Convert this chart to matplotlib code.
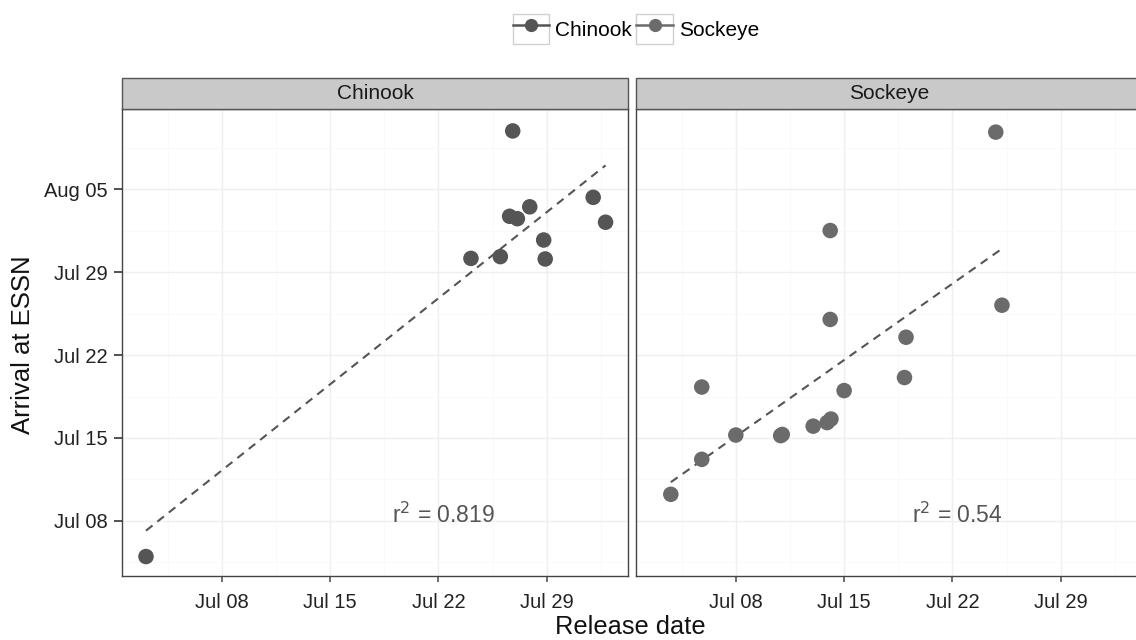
import numpy as np
import matplotlib
matplotlib.use("Agg")
import matplotlib.pyplot as plt
from matplotlib.lines import Line2D
from matplotlib.patches import Rectangle
from matplotlib.legend_handler import HandlerLine2D

plt.rcParams['font.family'] = ['Liberation Sans', 'DejaVu Sans']

# Days counted from June 30 (Jul d -> d, Aug d -> 31 + d)
chinook_release = [3.1, 26.8, 24.1, 26.0, 26.6, 27.1, 27.9, 28.8, 28.9, 32.0, 32.8]
chinook_arrival = [5.0, 40.9, 30.15, 30.3, 33.7, 33.5, 34.5, 31.7, 30.1, 35.3, 33.2]

sockeye_release = [3.8, 5.8, 5.8, 8.0, 10.9, 11.0, 13.0, 13.9, 14.15, 14.1, 15.0, 18.9, 19.0, 25.2, 24.8, 14.1]
sockeye_arrival = [10.25, 13.2, 19.3, 15.25, 15.2, 15.3, 16.0, 16.3, 16.6, 25.0, 19.0, 20.1, 23.5, 26.2, 40.8, 32.5]

species = ["Chinook", "Sockeye"]
r2_labels = ["0.819", "0.54"]
point_colors = ["#555555", "#6b6b6b"]

x_tick_days = [8, 15, 22, 29]
x_tick_labels = ["Jul 08", "Jul 15", "Jul 22", "Jul 29"]
y_tick_days = [8, 15, 22, 29, 36]
y_tick_labels = ["Jul 08", "Jul 15", "Jul 22", "Jul 29", "Aug 05"]

W, H = 1136, 640
fig = plt.figure(figsize=(W / 100, H / 100), dpi=100)

def fx(px):
    return px / W

def fy(py):
    return 1 - py / H

panel_w = 506
panel_top, panel_bot = 109, 576
strip_top = 78
lefts = [122, 636]

xlim = (1.55, 34.25)
ylim = (3.36, 42.75)

data = [(chinook_release, chinook_arrival), (sockeye_release, sockeye_arrival)]

for i, (sp, (xs, ys)) in enumerate(zip(species, data)):
    ax = fig.add_axes([fx(lefts[i]), fy(panel_bot), panel_w / W, (panel_bot - panel_top) / H])
    ax.set_xlim(*xlim)
    ax.set_ylim(*ylim)
    ax.set_facecolor("white")
    # grid
    for d in x_tick_days:
        ax.axvline(d, color="#efefef", lw=1.0, zorder=0)
    for d in [4.5, 11.5, 18.5, 25.5, 32.5]:
        ax.axvline(d, color="#f8f8f8", lw=0.6, zorder=0)
    for d in y_tick_days:
        ax.axhline(d, color="#efefef", lw=1.0, zorder=0)
    for d in [4.5, 11.5, 18.5, 25.5, 32.5, 39.5]:
        ax.axhline(d, color="#f8f8f8", lw=0.6, zorder=0)
    xs_a = np.array(xs)
    ys_a = np.array(ys)
    ax.scatter(xs_a, ys_a, s=125, color=point_colors[i], edgecolors="none", zorder=3)
    b, a = np.polyfit(xs_a, ys_a, 1)
    xx = np.array([xs_a.min(), xs_a.max()])
    ax.plot(xx, a + b * xx, ls=(0, (4, 3)), color="#555555", lw=1.5, zorder=2)
    ax.text(22.3, 8.5, r"r$^2$ = " + r2_labels[i], ha="center", va="center",
            fontsize=16.5, color="#555555")
    for s in ax.spines.values():
        s.set_color("#444444")
        s.set_linewidth(1.0)
    ax.set_xticks(x_tick_days)
    ax.set_xticklabels(x_tick_labels)
    ax.tick_params(axis="x", length=4.5, width=1.2, color="#555555", labelsize=14.5,
                   labelcolor="#222222", pad=7.5)
    ax.set_yticks(y_tick_days)
    if i == 0:
        ax.set_yticklabels(y_tick_labels)
        ax.tick_params(axis="y", length=5.5, width=1.2, color="#333333", labelsize=14.5,
                       labelcolor="#222222", pad=4.5)
    else:
        ax.tick_params(axis="y", length=0, labelleft=False)
    # strip
    fig.patches.append(Rectangle((fx(lefts[i]), fy(panel_top)), panel_w / W,
                                 (panel_top - strip_top) / H, transform=fig.transFigure,
                                 facecolor="#c9c9c9", edgecolor="#555555", lw=1.0))
    fig.text(fx(lefts[i] + panel_w / 2), fy((strip_top + panel_top) / 2), sp,
             ha="center", va="center", fontsize=15, color="#1a1a1a")

fig.text(fx(630), fy(627), "Release date", ha="center", va="center", fontsize=18.3, color="#111111")
fig.text(fx(23), fy(345), "Arrival at ESSN", ha="center", va="center", rotation=90,
         fontsize=18.5, color="#111111")


class BoxedHandler(HandlerLine2D):
    def create_artists(self, legend, orig_handle, xdescent, ydescent, width, height,
                       fontsize, trans):
        arts = super().create_artists(legend, orig_handle, xdescent, ydescent, width,
                                      height, fontsize, trans)
        rect = Rectangle((-xdescent, -ydescent), width, height, facecolor="white",
                         edgecolor="#d0d0d0", lw=1.0, transform=trans)
        return [rect] + list(arts)


handles = [Line2D([0], [0], color=c, marker="o", markersize=8.5, lw=1.8) for c in point_colors]
leg = fig.legend(handles, species, loc="center", bbox_to_anchor=(fx(636), fy(29)), ncol=2,
                 frameon=False, fontsize=15, handlelength=1.75, handleheight=1.9,
                 handletextpad=0.3, columnspacing=0.2, borderaxespad=0, numpoints=1,
                 handler_map={Line2D: BoxedHandler(numpoints=1)})

fig.savefig("out.png", dpi=100, facecolor="white")
